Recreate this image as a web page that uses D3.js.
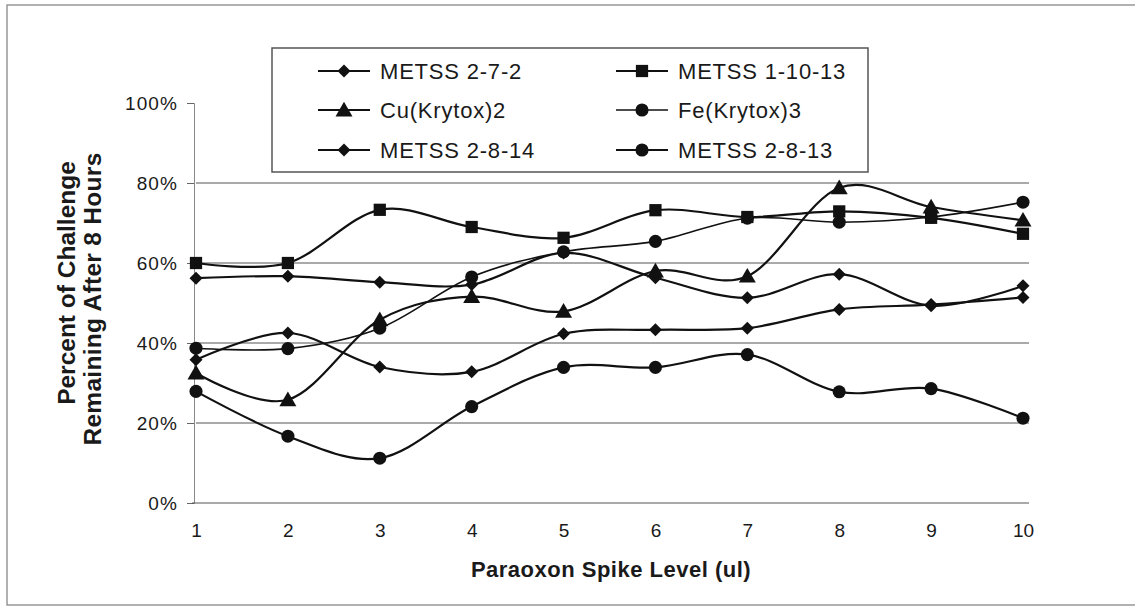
<!DOCTYPE html>
<html>
<head>
<meta charset="utf-8">
<script src="https://cdn.jsdelivr.net/npm/d3@7"></script>
<style>
  html, body { margin: 0; padding: 0; background: #ffffff; }
  svg { display: block; }
  text { font-family: "Liberation Sans", Arial, Helvetica, sans-serif; fill: #1a1a1a; }
</style>
</head>
<body>
<svg id="chart" width="1135" height="608"></svg>
<script>
// ---- data ----
const xLevels = [1, 2, 3, 4, 5, 6, 7, 8, 9, 10];
const yTicks = [0, 20, 40, 60, 80, 100];
const seriesNames = ["METSS 2-7-2", "METSS 1-10-13", "Cu(Krytox)2", "Fe(Krytox)3", "METSS 2-8-14", "METSS 2-8-13"];
const seriesMarkers = ["diamond", "square", "triangle", "circle", "diamond", "circle"];
const metss272   = [56.2, 56.7, 55.2, 54.6, 62.5, 56.3, 51.3, 57.2, 49.3, 54.3];
const metss11013 = [60.0, 60.0, 73.3, 69.0, 66.3, 73.2, 71.5, 72.9, 71.3, 67.3];
const cuKrytox2  = [32.5, 25.8, 45.8, 51.6, 47.9, 58.0, 56.7, 78.8, 74.0, 70.7];
const feKrytox3  = [38.7, 38.6, 43.7, 56.5, 62.8, 65.4, 71.2, 70.2, 71.5, 75.2];
const metss2814  = [35.8, 42.5, 34.0, 32.8, 42.3, 43.3, 43.7, 48.4, 49.6, 51.4];
const metss2813  = [27.9, 16.7, 11.2, 24.1, 33.9, 33.9, 37.1, 27.8, 28.6, 21.2];
const seriesValues = [metss272, metss11013, cuKrytox2, feKrytox3, metss2814, metss2813];

// ---- layout ----
const svg = d3.select("#chart");
const W = 1135, H = 608;
const plot = { left: 196, right: 1023, top: 103, bottom: 503 };
const FONT = '"Liberation Sans", Arial, sans-serif';

const x = d3.scaleLinear().domain([1, 10]).range([plot.left, plot.right]);
const y = d3.scaleLinear().domain([0, 100]).range([plot.bottom, plot.top]);

// outer chart border
svg.append("rect")
  .attr("x", 7).attr("y", 5).attr("width", W + 10).attr("height", 600)
  .attr("fill", "none").attr("stroke", "#888").attr("stroke-width", 1.3);

// gridlines
svg.append("g").selectAll("line")
  .data(yTicks.filter(d => d > 0 && d < 100))
  .join("line")
  .attr("x1", plot.left).attr("x2", plot.right + 6)
  .attr("y1", d => y(d)).attr("y2", d => y(d))
  .attr("stroke", "#555").attr("stroke-width", 1);

// y axis
const yAxis = d3.axisLeft(y).tickValues(yTicks).tickFormat(d => d + "%").tickSize(7).tickPadding(9);
const gy = svg.append("g").attr("transform", `translate(${plot.left - 2},0)`).call(yAxis);
gy.select(".domain").attr("stroke", "#888").attr("stroke-width", 1);
gy.selectAll(".tick line").attr("stroke", "#666");
gy.selectAll(".tick text").attr("font-size", 19).attr("fill", "#1a1a1a")
  .style("font-family", FONT).style("letter-spacing", "1.1px");

// x axis
const xAxis = d3.axisBottom(x).tickValues(xLevels).tickFormat(d3.format("d")).tickSize(0).tickPadding(21);
const gx = svg.append("g").attr("transform", `translate(0,${plot.bottom})`).call(xAxis);
gx.select(".domain").attr("stroke", "#555").attr("stroke-width", 1)
  .attr("d", `M${plot.left - 4},0H${plot.right + 6}`);
gx.selectAll(".tick text").attr("font-size", 19).attr("fill", "#1a1a1a")
  .style("font-family", FONT);

// axis titles
svg.append("text")
  .attr("x", 611).attr("y", 577)
  .attr("text-anchor", "middle")
  .attr("font-size", 22).attr("font-weight", "bold")
  .style("letter-spacing", "0.5px")
  .text("Paraoxon Spike Level (ul)");

const yTitle = svg.append("g");
yTitle.append("text")
  .attr("transform", "translate(75,283) rotate(-90)")
  .attr("text-anchor", "middle")
  .attr("font-size", 24.5).attr("font-weight", "bold")
  .text("Percent of Challenge");
yTitle.append("text")
  .attr("transform", "translate(101,299) rotate(-90)")
  .attr("text-anchor", "middle")
  .attr("font-size", 24.5).attr("font-weight", "bold")
  .style("letter-spacing", "0.3px")
  .text("Remaining After 8 Hours");

// markers
function markerPath(kind) {
  if (kind === "diamond") {
    const r = 6.5;
    return `M0,${-r}L${r},0L0,${r}L${-r},0Z`;
  }
  const types = { square: d3.symbolSquare, triangle: d3.symbolTriangle, circle: d3.symbolCircle };
  const sizes = { square: 150, triangle: 125, circle: 135 };
  return d3.symbol().type(types[kind]).size(sizes[kind])();
}

const line = d3.line()
  .x((d, i) => x(xLevels[i]))
  .y(d => y(d))
  .curve(d3.curveCatmullRom.alpha(0));

const series = seriesNames.map((name, i) => ({
  name, marker: seriesMarkers[i], values: seriesValues[i],
  width: name === "Fe(Krytox)3" ? 1.6 : 2.2
}));

const gSeries = svg.append("g").selectAll("g").data(series).join("g");
gSeries.append("path")
  .attr("d", d => line(d.values))
  .attr("fill", "none").attr("stroke", "#111")
  .attr("stroke-width", d => d.width);
gSeries.each(function(s) {
  d3.select(this).selectAll("path.mk")
    .data(s.values)
    .join("path")
    .attr("class", "mk")
    .attr("d", markerPath(s.marker))
    .attr("transform", (v, i) => `translate(${x(xLevels[i])},${y(v) + (s.marker === "triangle" ? 1.5 : 0)})`)
    .attr("fill", "#111");
});

// legend
const legend = svg.append("g");
legend.append("rect")
  .attr("x", 272).attr("y", 48).attr("width", 596).attr("height", 124)
  .attr("fill", "#fff").attr("stroke", "#555").attr("stroke-width", 1.5);
const colX = [318, 616];
const rowY = [71, 110, 150];
series.forEach((s, i) => {
  const lx = colX[i % 2], ly = rowY[Math.floor(i / 2)];
  const g = legend.append("g").attr("transform", `translate(${lx},${ly})`);
  g.append("line").attr("x1", 0).attr("x2", 52).attr("y1", 0).attr("y2", 0)
    .attr("stroke", "#111").attr("stroke-width", s.width);
  g.append("path").attr("d", markerPath(s.marker))
    .attr("transform", `translate(26,${s.marker === "triangle" ? 1.5 : 0})`)
    .attr("fill", "#111");
  g.append("text").attr("x", 62).attr("y", 0).attr("dy", "0.36em")
    .attr("font-size", 22)
    .style("letter-spacing", "0.8px")
    .text(s.name);
});
</script>
</body>
</html>
